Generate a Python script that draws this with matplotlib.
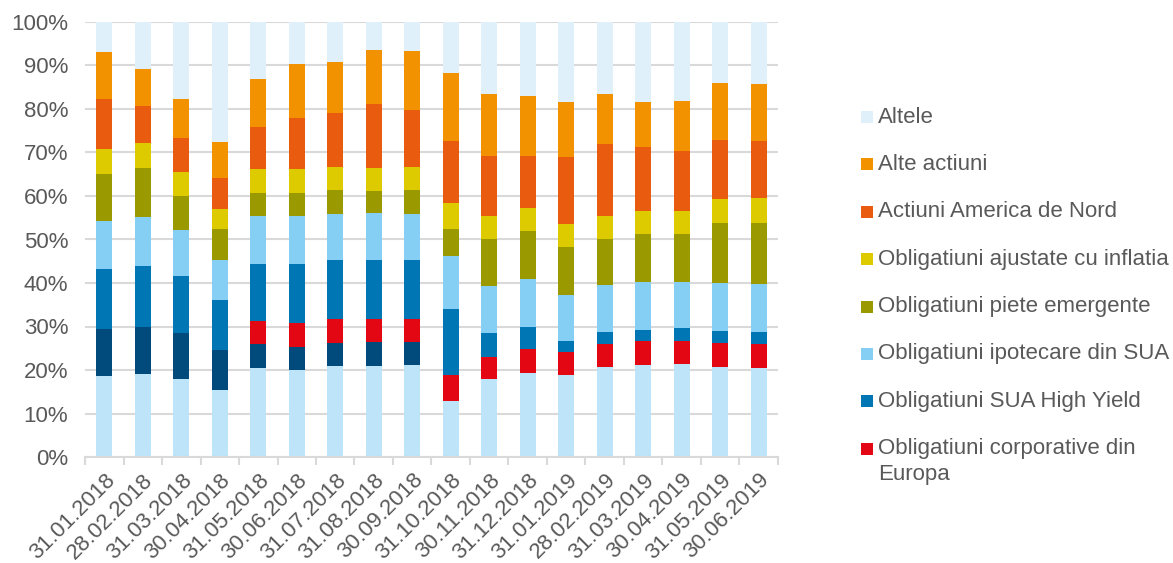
import matplotlib
matplotlib.use("Agg")
import matplotlib.pyplot as plt
import numpy as np
from matplotlib.ticker import FuncFormatter, FixedLocator
from matplotlib.patches import Rectangle

plt.rcParams['font.family'] = ['Liberation Sans', 'DejaVu Sans']

dates = ["31.01.2018", "28.02.2018", "31.03.2018", "30.04.2018", "31.05.2018",
         "30.06.2018", "31.07.2018", "31.08.2018", "30.09.2018", "31.10.2018",
         "30.11.2018", "31.12.2018", "31.01.2019", "28.02.2019", "31.03.2019",
         "30.04.2019", "31.05.2019", "30.06.2019"]

# bottom segments (not shown in the visible legend)
base_segment = [18.7, 19.0, 18.0, 15.5, 20.5, 20.0, 20.9, 21.0, 21.1, 12.8,
                17.9, 19.3, 18.8, 20.7, 21.1, 21.3, 20.8, 20.4]
navy_segment = [10.8, 11.0, 10.5, 9.1, 5.4, 5.3, 5.4, 5.4, 5.3, 0,
                0, 0, 0, 0, 0, 0, 0, 0]
corp_europa = [0, 0, 0, 0, 5.4, 5.5, 5.4, 5.3, 5.3, 6.1,
               5.2, 5.5, 5.3, 5.3, 5.6, 5.4, 5.5, 5.5]
high_yield = [13.7, 14.0, 13.0, 11.5, 13.1, 13.6, 13.5, 13.6, 13.5, 15.2,
              5.4, 5.2, 2.6, 2.7, 2.6, 2.9, 2.7, 2.8]
ipotecare = [11.0, 11.2, 10.6, 9.3, 10.9, 11.1, 10.7, 10.8, 10.6, 12.2,
             10.9, 11.0, 10.6, 10.8, 10.9, 10.7, 11.1, 11.1]
emergente = [10.9, 11.2, 7.9, 6.9, 5.3, 5.1, 5.4, 5.0, 5.5, 6.1,
             10.7, 10.9, 10.9, 10.7, 11.1, 10.9, 13.8, 14.1]
inflatia = [5.7, 5.7, 5.5, 4.7, 5.5, 5.7, 5.4, 5.4, 5.4, 6.0,
            5.4, 5.3, 5.3, 5.1, 5.3, 5.4, 5.5, 5.7]
america_nord = [11.4, 8.7, 7.8, 7.1, 9.8, 11.6, 12.3, 14.6, 13.1, 14.2,
                13.6, 12.1, 15.4, 16.7, 14.6, 13.8, 13.5, 13.0]
alte_actiuni = [10.9, 8.4, 9.1, 8.2, 10.9, 12.5, 11.8, 12.5, 13.6, 15.7,
                14.4, 13.6, 12.6, 11.4, 10.5, 11.5, 13.0, 13.2]
altele = [6.9, 10.8, 17.6, 27.7, 13.2, 9.6, 9.2, 6.4, 6.6, 11.7,
          16.5, 17.1, 18.5, 16.6, 18.3, 18.1, 14.1, 14.2]

series = [
    (None, base_segment, "#BDE4F8"),
    (None, navy_segment, "#004A7C"),
    ("Obligatiuni corporative din\nEuropa", corp_europa, "#E30613"),
    ("Obligatiuni SUA High Yield", high_yield, "#0077B4"),
    ("Obligatiuni ipotecare din SUA", ipotecare, "#84CFF3"),
    ("Obligatiuni piete emergente", emergente, "#9A9A00"),
    ("Obligatiuni ajustate cu inflatia", inflatia, "#DDCB00"),
    ("Actiuni America de Nord", america_nord, "#E95B0F"),
    ("Alte actiuni", alte_actiuni, "#F39200"),
    ("Altele", altele, "#DFF0FB"),
]

W, H = 1173, 563
fig = plt.figure(figsize=(W / 100, H / 100), dpi=100)
ax = fig.add_axes([85 / W, 1 - 457 / H, (778 - 85) / W, (457 - 22) / H])

TXT = '#595959'
FS = 16

x = np.arange(len(dates))
bottom = np.zeros(len(dates))
legend_items = []
for name, vals, col in series:
    v = np.array(vals, dtype=float)
    ax.bar(x, v, width=0.41, bottom=bottom, color=col, edgecolor='none', zorder=3)
    bottom += v
    if name is not None:
        legend_items.append((name, col))

ax.set_xlim(-0.5, len(dates) - 0.5)
ax.set_ylim(0, 100)
ax.yaxis.set_major_locator(FixedLocator(np.arange(0, 101, 10)))
ax.yaxis.set_major_formatter(FuncFormatter(lambda v, p: f"{int(v)}%"))
ax.grid(axis='y', color='#D9D9D9', linewidth=1.5, zorder=0)
ax.set_axisbelow(True)

for s in ['top', 'right', 'left']:
    ax.spines[s].set_visible(False)
ax.spines['bottom'].set_color('#D9D9D9')
ax.spines['bottom'].set_linewidth(1.5)
ax.spines['bottom'].set_zorder(4)

ax.set_xticks(x)
ax.set_xticklabels(dates, rotation=45, ha='right', va='top',
                   rotation_mode='anchor', fontsize=FS, color=TXT)
ax.tick_params(axis='x', which='major', length=0, pad=9)
ax.set_xticks(np.arange(-0.5, len(dates), 1.0), minor=True)
ax.tick_params(axis='x', which='minor', length=6, width=1.5, color='#D9D9D9')
ax.tick_params(axis='y', length=0, labelsize=FS, labelcolor=TXT, pad=12)

# legend, drawn as in the original (top entry = last stacked series)
y0 = 117.0
step = 47.4
mk = 12
for i, (name, col) in enumerate(legend_items[::-1]):
    yc = y0 + i * step
    fig.patches.append(Rectangle(((861) / W, 1 - (yc + mk / 2) / H), mk / W, mk / H,
                                 transform=fig.transFigure, facecolor=col,
                                 edgecolor='none'))
    lines = name.split("\n")
    for j, ln in enumerate(lines):
        fig.text(878 / W, 1 - (yc + j * 26) / H, ln, fontsize=FS, color=TXT,
                 ha='left', va='center')

fig.savefig("out.png", dpi=100)
